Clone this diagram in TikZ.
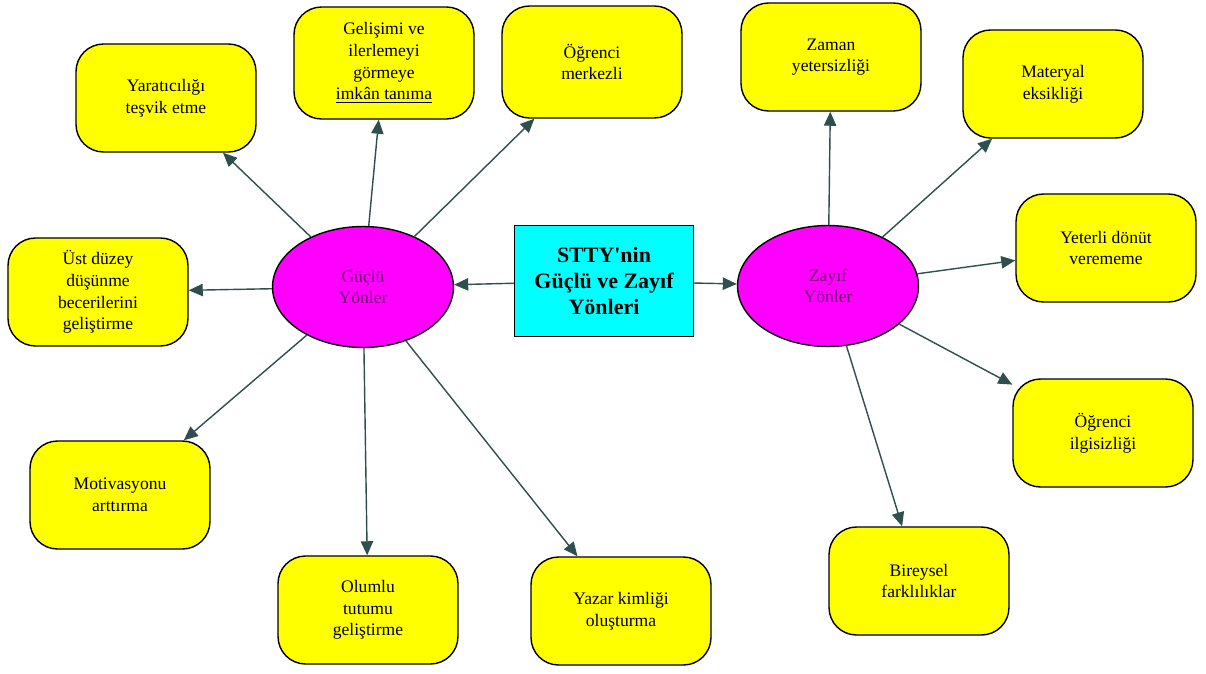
\documentclass[tikz,border=0pt]{standalone}
\usepackage{fontspec}
\setmainfont{Liberation Serif}
\usepackage{xcolor}
\usepackage{tikz}
\usetikzlibrary{shapes.geometric,arrows.meta}
\definecolor{arrgray}{HTML}{2F4F4F}
\definecolor{sidetext}{HTML}{6E006E}
\definecolor{boxyellow}{RGB}{255,255,0}
\definecolor{sidemagenta}{RGB}{255,0,255}
\definecolor{hubcyan}{RGB}{0,255,255}

\begin{document}
\begin{tikzpicture}[x=0.02cm, y=-0.02cm, font=\fontsize{10}{12.3}\selectfont, box/.style={draw, line width=0.8pt, fill=boxyellow, rounded corners=0.55cm, align=center, minimum width=3.6cm, minimum height=2.16cm}, side/.style={ellipse, draw, line width=0.8pt, fill=sidemagenta, text=sidetext, align=center, minimum width=3.62cm, minimum height=2.42cm}, arr/.style={-{Triangle[length=8pt, width=7pt]}, line width=0.8pt, draw=arrgray}]
\useasboundingbox (0,0) rectangle (1206,673);
\node[draw, line width=0.8pt, fill=hubcyan, align=center, minimum width=3.58cm, minimum height=2.22cm, font=\fontsize{12.5}{15}\selectfont\bfseries] (stty) at (604,281) {STTY\textquotesingle nin\\Güçlü ve Zayıf\\Yönleri};
\node[side] (guc) at (363,287) {Güçlü\\Yönler};
\node[side] (zay) at (828,286) {Zayıf\\Yönler};
\node[box] (yar) at (166,98) {Yaratıcılığı\\teşvik etme};
\node[box, minimum height=2.24cm] (gel) at (384,63) {Gelişimi ve\\ilerlemeyi\\görmeye\\\underline{imkân tanıma}};
\node[box, minimum height=2.24cm] (ogr) at (592,62) {Öğrenci\\merkezli};
\node[box] (ust) at (98,292) {Üst düzey\\düşünme\\becerilerini\\geliştirme};
\node[box] (mot) at (120,495) {Motivasyonu\\arttırma};
\node[box] (olu) at (368,610) {Olumlu\\tutumu\\geliştirme};
\node[box] (yaz) at (621,611) {Yazar kimliği\\oluşturma};
\node[box] (zam) at (831,57) {Zaman\\yetersizliği};
\node[box] (mat) at (1053,84) {Materyal\\eksikliği};
\node[box] (yet) at (1106,248) {Yeterli dönüt\\verememe};
\node[box] (ilg) at (1103,433) {Öğrenci\\ilgisizliği};
\node[box] (bir) at (919,581) {Bireysel\\farklılıklar};
\draw[arr] (stty) -- (guc);
\draw[arr] (stty) -- (zay);
\foreach \t in {yar,gel,ogr,ust,mot,olu,yaz}
  \draw[arr] (guc) -- (\t);
\foreach \t in {zam,mat,yet,ilg,bir}
  \draw[arr] (zay) -- (\t);
\end{tikzpicture}
\end{document}
